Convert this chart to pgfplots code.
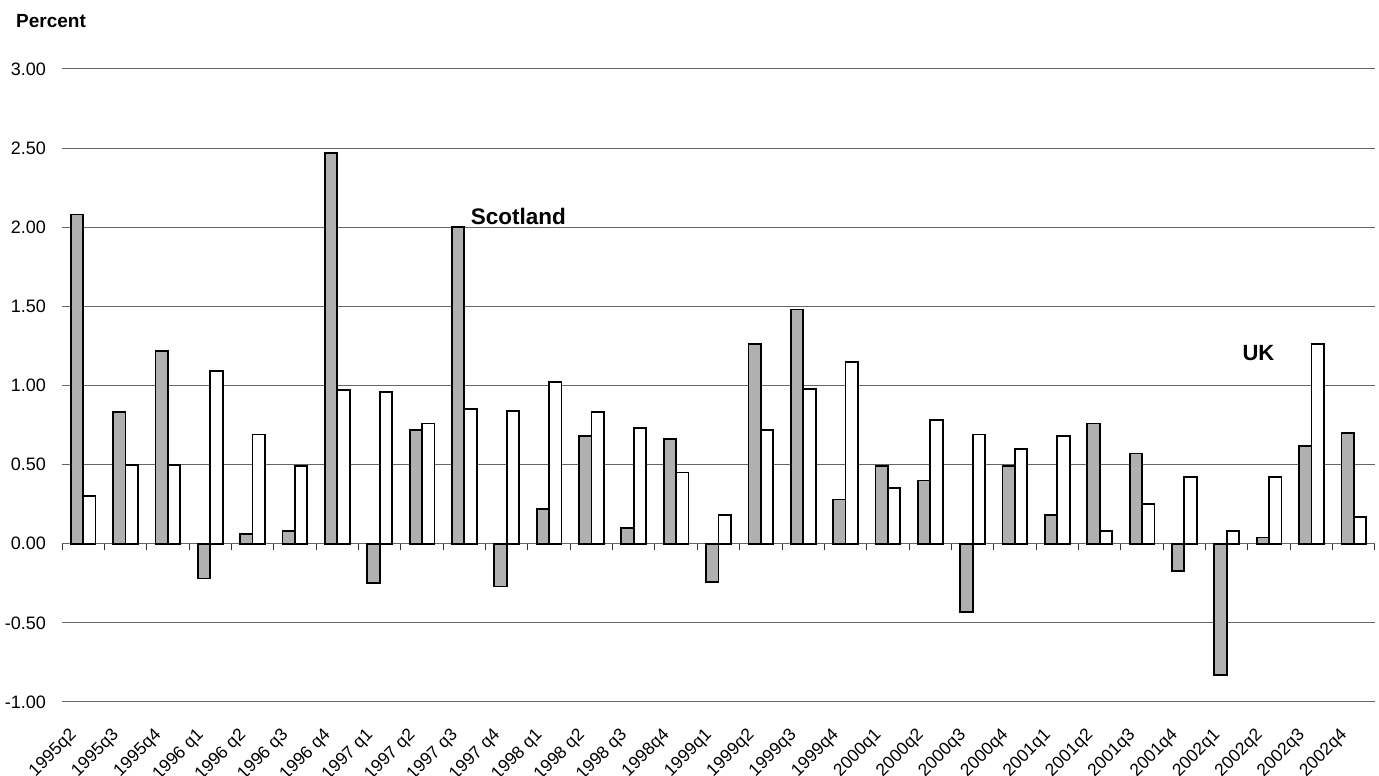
\documentclass[border=0pt]{standalone}
\usepackage{pgfplots}
\usepackage{pgfplotstable}
\pgfplotsset{compat=1.18}
\usepackage{fontspec}
\setmainfont{Liberation Sans}
\definecolor{scotgray}{RGB}{176,176,176}
\pgfplotstableread{
x S UK
0 2.08 0.30
1 0.83 0.50
2 1.22 0.50
3 -0.22 1.09
4 0.06 0.69
5 0.08 0.49
6 2.47 0.97
7 -0.25 0.96
8 0.72 0.76
9 2.00 0.85
10 -0.27 0.84
11 0.22 1.02
12 0.68 0.83
13 0.10 0.73
14 0.66 0.45
15 -0.24 0.18
16 1.26 0.72
17 1.48 0.98
18 0.28 1.15
19 0.49 0.35
20 0.40 0.78
21 -0.43 0.69
22 0.49 0.60
23 0.18 0.68
24 0.76 0.08
25 0.57 0.25
26 -0.17 0.42
27 -0.83 0.08
28 0.04 0.42
29 0.62 1.26
30 0.70 0.17
}\datatable
\begin{document}
\begin{tikzpicture}
\useasboundingbox (0,0) rectangle (1379pt,776pt);
\node[anchor=base west, inner sep=0pt, font=\fontsize{19}{22}\selectfont\bfseries] at (16pt,748pt) {Percent};
\begin{axis}[
  at={(62pt,74pt)}, anchor=south west,
  scale only axis, width=1313pt, height=633pt,
  xmin=-0.5, xmax=30.5, ymin=-1, ymax=3,
  ytick={-1,-0.5,0,0.5,1,1.5,2,2.5,3},
  ymajorgrids, grid style={draw=black!60, line width=1pt},
  axis line style={draw=none},
  major tick length=0pt,
  xtick={-0.35,0.65,...,29.7},
  xticklabels={1995q2,1995q3,1995q4,{1996 q1},{1996 q2},{1996 q3},{1996 q4},{1997 q1},{1997 q2},{1997 q3},{1997 q4},{1998 q1},{1998 q2},{1998 q3},1998q4,1999q1,1999q2,1999q3,1999q4,2000q1,2000q2,2000q3,2000q4,2001q1,2001q2,2001q3,2001q4,2002q1,2002q2,2002q3,2002q4},
  xticklabel shift=25pt,
  xticklabel style={rotate=45, anchor=north east, inner sep=0pt, font=\fontsize{17.5}{20}\selectfont},
  yticklabel style={anchor=east, inner sep=0pt, xshift=-16pt, font=\fontsize{18}{20}\selectfont},
  /pgf/number format/assume math mode=true,
  yticklabel={\pgfmathprintnumber[fixed, fixed zerofill, precision=2]{\tick}},
  ybar=0pt, bar width=12.4pt,
  clip=false,
]
\addplot[fill=scotgray, draw=black, line width=1.8pt] table[x=x, y=S] {\datatable};
\addplot[fill=white, draw=black, line width=1.8pt] table[x=x, y=UK] {\datatable};
\pgfplotsinvokeforeach{-0.5,0.5,...,30.5}{
  \draw[black!80, line width=1pt] (axis cs:#1,0) -- ([yshift=-6pt]axis cs:#1,0);
}
\node[anchor=base west, inner sep=0pt, font=\fontsize{22.5}{26}\selectfont\bfseries] at (axis cs:9.15,2.02) {Scotland};
\node[anchor=base west, inner sep=0pt, font=\fontsize{22}{26}\selectfont\bfseries] at (axis cs:27.37,1.156) {UK};
\end{axis}
\end{tikzpicture}
\end{document}
